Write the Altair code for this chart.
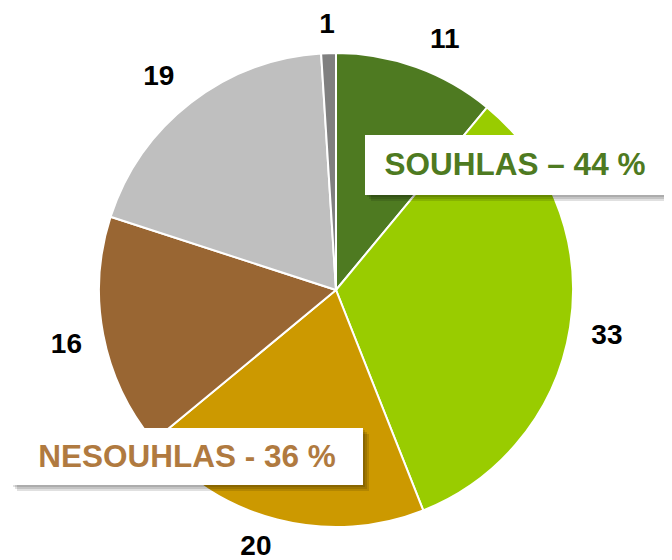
import altair as alt
import pandas as pd

categories = ["a", "b", "c", "d", "e", "f"]
values = [11, 33, 20, 16, 19, 1]
colors = ["#4E7A21", "#99CC00", "#CC9900", "#996633", "#BFBFBF", "#808080"]
box_texts = ["SOUHLAS – 44 %", "NESOUHLAS - 36 %"]
box_colors = ["#4E7A21", "#B07A40"]

df = pd.DataFrame({"cat": categories, "value": values, "order": list(range(len(values)))})

W, H = 656, 552
OX, OY = 8, 8
CX, CY, R = 336 - OX, 290 - OY, 237
R0 = 250

pix = alt.Scale(domain=[0, W], range=[0, W])
piy = alt.Scale(domain=[0, H], range=[0, H])

base = alt.Chart(df).encode(
    theta=alt.Theta("value:Q", stack=True),
    order=alt.Order("order:Q"),
)

pie = base.mark_arc(stroke="white", strokeWidth=2).encode(
    color=alt.Color("cat:N", scale=alt.Scale(domain=categories, range=colors), legend=None),
    x=alt.value(CX), y=alt.value(CY),
    radius=alt.value(R),
)

labels = (
    alt.Chart(df)
    .transform_joinaggregate(total="sum(value)")
    .transform_window(cum="sum(value)", sort=[alt.SortField("order")])
    .transform_calculate(
        mid=f"(datum.cum - datum.value / 2) / datum.total * 2 * PI",
        hw="12 * length(toString(datum.value))",
    )
    .transform_calculate(
        lx=f"{CX} + {R0} * sin(datum.mid) + datum.hw * clamp(3 * sin(datum.mid), -1, 1)",
        ly=f"{CY} - {R0} * cos(datum.mid) - 15 * clamp(3 * cos(datum.mid), -1, 1)",
    )
    .mark_text(font="Liberation Sans", fontWeight="bold", fontSize=28, color="black", baseline="middle", align="center")
    .encode(
        x=alt.X("lx:Q", scale=pix, axis=None),
        y=alt.Y("ly:Q", scale=piy, axis=None),
        text=alt.Text("value:Q"),
    )
)

boxes = pd.DataFrame({
    "t": box_texts,
    "c": box_colors,
    "x1": [365 - OX, 11 - OX],
    "x2": [665 - OX, 363 - OX],
    "y1": [135 - OY, 428 - OY],
    "y2": [195 - OY, 485 - OY],
})
boxes["xm"] = (boxes["x1"] + boxes["x2"]) / 2
boxes["ym"] = (boxes["y1"] + boxes["y2"]) / 2 + 1
for k in range(1, 4):
    boxes[f"sx1_{k}"] = boxes["x1"] + 2 * k
    boxes[f"sx2_{k}"] = boxes["x2"] + 2 * k
    boxes[f"sy1_{k}"] = boxes["y1"] + 2 * k
    boxes[f"sy2_{k}"] = boxes["y2"] + 2 * k

shadows = []
for k in range(1, 4):
    shadows.append(
        alt.Chart(boxes).mark_rect(color="#000000", opacity=0.12).encode(
            x=alt.X(f"sx1_{k}:Q", scale=pix, axis=None),
            x2=f"sx2_{k}:Q",
            y=alt.Y(f"sy1_{k}:Q", scale=piy, axis=None),
            y2=f"sy2_{k}:Q",
        )
    )

rects = alt.Chart(boxes).mark_rect(color="white").encode(
    x=alt.X("x1:Q", scale=pix, axis=None), x2="x2:Q",
    y=alt.Y("y1:Q", scale=piy, axis=None), y2="y2:Q",
)

btext = alt.Chart(boxes).mark_text(font="Liberation Sans", fontWeight="bold", fontSize=31.5, baseline="middle", align="center").encode(
    x=alt.X("xm:Q", scale=pix, axis=None),
    y=alt.Y("ym:Q", scale=piy, axis=None),
    text="t:N",
    color=alt.Color("c:N", scale=None),
)

chart = alt.layer(pie, labels, *shadows, rects, btext).resolve_scale(color="independent").properties(
    width=W, height=H, padding=0, autosize="none"
).configure_view(stroke=None)

chart.save("out.html", embed_options={"renderer": "svg", "actions": False})
